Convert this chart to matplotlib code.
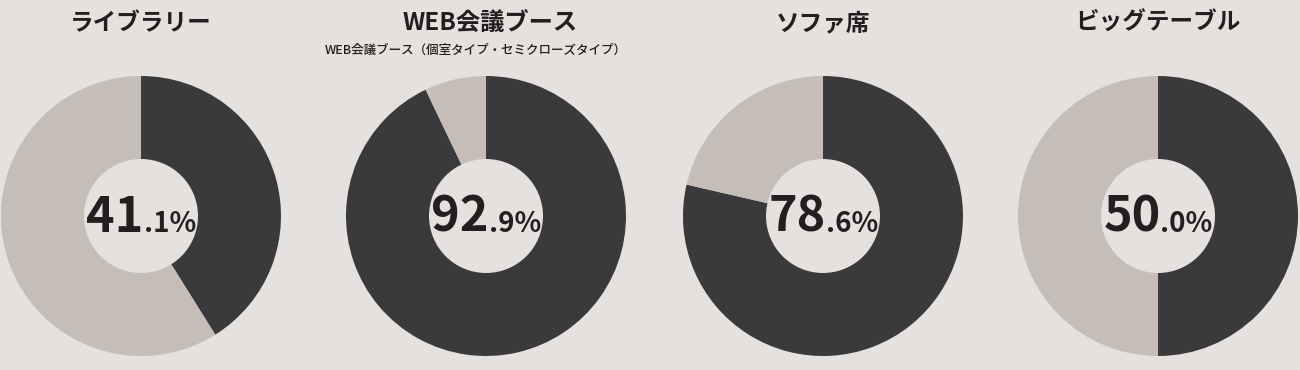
import matplotlib
matplotlib.use('Agg')
import matplotlib.pyplot as plt
from matplotlib.patches import Circle

plt.rcParams['font.family'] = ['Noto Sans CJK JP', 'DejaVu Sans']

# Data
titles = ['ライブラリー', 'WEB会議ブース', 'ソファ席', 'ビッグテーブル']
subtitles = ['', 'WEB会議ブース（個室タイプ・セミクローズタイプ）', '', '']
values = [41.1, 92.9, 78.6, 50.0]

BG = '#e5e1de'
DARK = '#3a393b'
LIGHT = '#c5bdb7'
TEXT = '#231f20'

W, H = 1300, 370
fig = plt.figure(figsize=(13, 3.7), dpi=100, facecolor=BG)
ax = fig.add_axes([0, 0, 1, 1])

centers_x = [141, 486, 823, 1158]
cy = H - 216
radius = 140
hole = 57

# draw the rings first (pie() resets the axis limits each time)
for cx, v in zip(centers_x, values):
    ax.pie([v, 100 - v], colors=[DARK, LIGHT], startangle=90, counterclock=False,
           center=(cx, cy), radius=radius, wedgeprops=dict(linewidth=0))
    ax.add_patch(Circle((cx, cy), hole, facecolor=BG, edgecolor='none', zorder=5))

ax.set_xlim(0, W)
ax.set_ylim(0, H)
ax.set_aspect('equal')
ax.axis('off')

renderer = fig.canvas.get_renderer()

for cx, title, sub, v in zip(centers_x, titles, subtitles, values):
    ax.text(cx + (4 if sub else 0), H - 23, title, ha='center', va='center',
            fontsize=17.5 if sub else 17, fontweight='bold', color=TEXT)
    if sub:
        ax.text(cx - 10, H - 50, sub, ha='center', va='center', fontsize=9,
                fontweight='medium', color=TEXT)

    # big integer part + small decimal part, centered together in the hole
    s = f'{v:.1f}'
    whole, frac = s.split('.')
    t1 = ax.text(cx, H - 232, whole, ha='left', va='baseline', fontsize=35,
                 fontweight='bold', color=TEXT, zorder=6)
    t2 = ax.text(cx, H - 232, '.' + frac + '%', ha='left', va='baseline',
                 fontsize=20, fontweight='bold', color=TEXT, zorder=6)
    w1 = t1.get_window_extent(renderer).width
    w2 = t2.get_window_extent(renderer).width
    x0 = cx - (w1 + w2) / 2
    t1.set_x(x0)
    t2.set_x(x0 + w1)

fig.savefig('out.png', dpi=100, facecolor=BG)
